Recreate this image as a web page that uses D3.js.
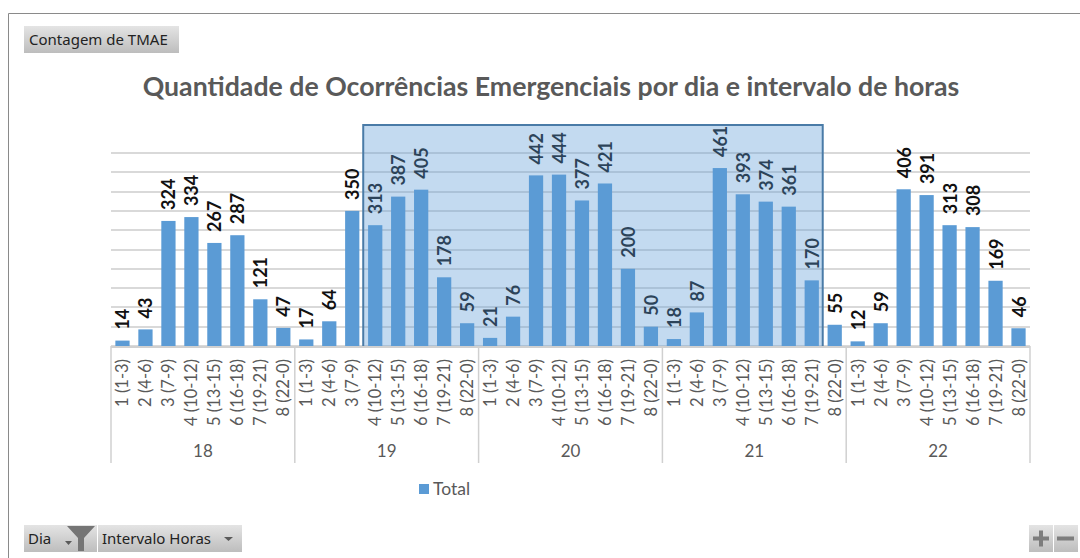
<!DOCTYPE html>
<html>
<head>
<meta charset="utf-8">
<script src="https://d3js.org/d3.v7.min.js"></script>
<style>
  html, body { margin: 0; padding: 0; background: #fff; overflow: hidden; }
  text { font-family: Lato, sans-serif; }
  .btn text { font-family: "Noto Sans", sans-serif; font-size: 15px; fill: #222; }
</style>
</head>
<body>
<div id="chart"></div>
<script>
(function () {
  // values
  const days = ["18", "19", "20", "21", "22"];
  const hours = ["1 (1-3)", "2 (4-6)", "3 (7-9)", "4 (10-12)", "5 (13-15)", "6 (16-18)", "7 (19-21)", "8 (22-0)"];
  const day18 = [14, 43, 324, 334, 267, 287, 121, 47];
  const day19 = [17, 64, 350, 313, 387, 405, 178, 59];
  const day20 = [21, 76, 442, 444, 377, 421, 200, 50];
  const day21 = [18, 87, 461, 393, 374, 361, 170, 55];
  const day22 = [12, 59, 406, 391, 313, 308, 169, 46];
  const dayValues = [day18, day19, day20, day21, day22];
  const title = "Quantidade de Ocorrências Emergenciais por dia e intervalo de horas";
  const selectedFrom = "19|4 (10-12)";
  const selectedTo = "21|7 (19-21)";

  const width = 1080;
  const height = 558;
  const plot = { left: 111, right: 1030, top: 153, bottom: 346 };

  const rows = [];
  days.forEach((day, i) => {
    hours.forEach((hour, j) => {
      rows.push({ key: day + "|" + hour, day: day, hour: hour, value: dayValues[i][j] });
    });
  });

  const svg = d3.select("#chart").append("svg")
    .attr("width", width)
    .attr("height", height);

  const defs = svg.append("defs");
  const grad = defs.append("linearGradient")
    .attr("id", "btnFill")
    .attr("x1", 0).attr("y1", 0).attr("x2", 0).attr("y2", 1);
  grad.append("stop").attr("offset", "0%").attr("stop-color", "#e4e4e4");
  grad.append("stop").attr("offset", "100%").attr("stop-color", "#bdbdbd");

  // outer frame, only top and left are in the picture
  svg.append("path")
    .attr("d", `M${width},13.5H8.5V${height}`)
    .attr("fill", "none")
    .attr("stroke", "#8a8a8a");

  const x = d3.scaleBand()
    .domain(rows.map(d => d.key))
    .range([plot.left, plot.right])
    .paddingInner(0.38)
    .paddingOuter(0.19);

  const step = x.step();

  const y = d3.scaleLinear()
    .domain([0, 500])
    .range([plot.bottom, plot.top]);

  // Gridlines
  svg.append("g")
    .attr("class", "grid")
    .selectAll("line")
    .data(y.ticks(10))
    .enter().append("line")
    .attr("x1", plot.left)
    .attr("x2", plot.right)
    .attr("y1", d => Math.round(y(d)))
    .attr("y2", d => Math.round(y(d)))
    .attr("stroke", "#d9d9d9")
    .attr("stroke-width", 2);

  // Value labels
  svg.append("g")
    .selectAll("text")
    .data(rows)
    .enter().append("text")
    .attr("transform", d => `translate(${x(d.key) + x.bandwidth() / 2 + 7},${y(d.value) - 11}) rotate(-90)`)
    .attr("font-size", 18)
    .attr("font-weight", 700)
    .attr("fill", "#111")
    .text(d => d.value);

  // Selection box, tints grid and labels but sits under the bars
  const selLeft = x(selectedFrom) - (step - x.bandwidth()) / 2 - 0.5;
  const selRight = x(selectedTo) + x.bandwidth() + (step - x.bandwidth()) / 2 - 0.5;
  svg.append("rect")
    .attr("x", selLeft)
    .attr("y", 125)
    .attr("width", selRight - selLeft)
    .attr("height", 222)
    .attr("fill", "#5b9bd5")
    .attr("fill-opacity", 0.37)
    .attr("stroke", "#4a7ba7")
    .attr("stroke-width", 2);

  // Bars
  svg.append("g")
    .selectAll("rect")
    .data(rows)
    .enter().append("rect")
    .attr("x", d => x(d.key))
    .attr("y", d => y(d.value))
    .attr("width", x.bandwidth())
    .attr("height", d => y(0) - y(d.value))
    .attr("fill", "#5b9bd5");

  // Hour labels
  svg.append("g")
    .selectAll("text")
    .data(rows)
    .enter().append("text")
    .attr("transform", d => `translate(${x(d.key) + x.bandwidth() / 2 + 6},359) rotate(-90)`)
    .attr("text-anchor", "end")
    .attr("font-size", 16.5)
    .attr("fill", "#595959")
    .text(d => d.hour);

  // Axis line and day separators
  svg.append("line")
    .attr("x1", plot.left).attr("x2", plot.right)
    .attr("y1", plot.bottom + 1).attr("y2", plot.bottom + 1)
    .attr("stroke", "#d0d0d0").attr("stroke-width", 2);

  const dayBand = d3.scaleBand()
    .domain(days)
    .range([plot.left, plot.right]);

  svg.append("g")
    .selectAll("line")
    .data(days.concat(["end"]))
    .enter().append("line")
    .attr("x1", (d, i) => plot.left + i * dayBand.step())
    .attr("x2", (d, i) => plot.left + i * dayBand.step())
    .attr("y1", plot.bottom)
    .attr("y2", 463)
    .attr("stroke", "#d0d0d0")
    .attr("stroke-width", 1.5);

  svg.append("g")
    .selectAll("text")
    .data(days)
    .enter().append("text")
    .attr("x", d => dayBand(d) + dayBand.bandwidth() / 2)
    .attr("y", 457)
    .attr("text-anchor", "middle")
    .attr("font-size", 17)
    .attr("fill", "#595959")
    .text(d => d);

  // Title
  svg.append("text")
    .attr("x", 551)
    .attr("y", 96)
    .attr("text-anchor", "middle")
    .attr("font-size", 26.7)
    .attr("font-weight", 700)
    .attr("fill", "#595959")
    .text(title);

  // Legend
  svg.append("rect")
    .attr("x", 419).attr("y", 484)
    .attr("width", 10).attr("height", 10)
    .attr("fill", "#5b9bd5");
  svg.append("text")
    .attr("x", 433).attr("y", 495)
    .attr("font-size", 17.5)
    .attr("fill", "#595959")
    .text("Total");

  // Pivot chart buttons
  function button(bx, by, w, h, label, tx) {
    const g = svg.append("g").attr("class", "btn");
    g.append("rect")
      .attr("x", bx).attr("y", by)
      .attr("width", w).attr("height", h)
      .attr("fill", "url(#btnFill)");
    if (label) {
      g.append("text").attr("x", tx).attr("y", by + 19).text(label);
    }
  }

  button(24, 26, 155, 27, "Contagem de TMAE", 29);
  button(24, 525, 73, 27, "Dia", 28);
  button(98, 525, 144, 27, "Intervalo Horas", 102);
  button(1029, 525, 24, 27, null, 0);
  button(1054, 525, 24, 27, null, 0);

  const glyph = svg.append("g").attr("fill", "#5a5a5a");
  // filter funnel
  glyph.append("path").attr("fill", "#757575").attr("d", "M67,526H95L84,538V551H78V538Z");
  // dropdown arrows
  glyph.append("path").attr("d", "M65,541H72L68.5,545Z");
  glyph.append("path").attr("d", "M224,537H233L228.5,541Z");
  // zoom buttons
  glyph.append("path").attr("fill", "#7d7d7d").attr("d", "M1033,536.5H1039V530.5H1043V536.5H1049V540.5H1043V546.5H1039V540.5H1033Z");
  glyph.append("rect").attr("fill", "#7d7d7d").attr("x", 1057).attr("y", 536.5).attr("width", 17).attr("height", 4);
})();
</script>
</body>
</html>
